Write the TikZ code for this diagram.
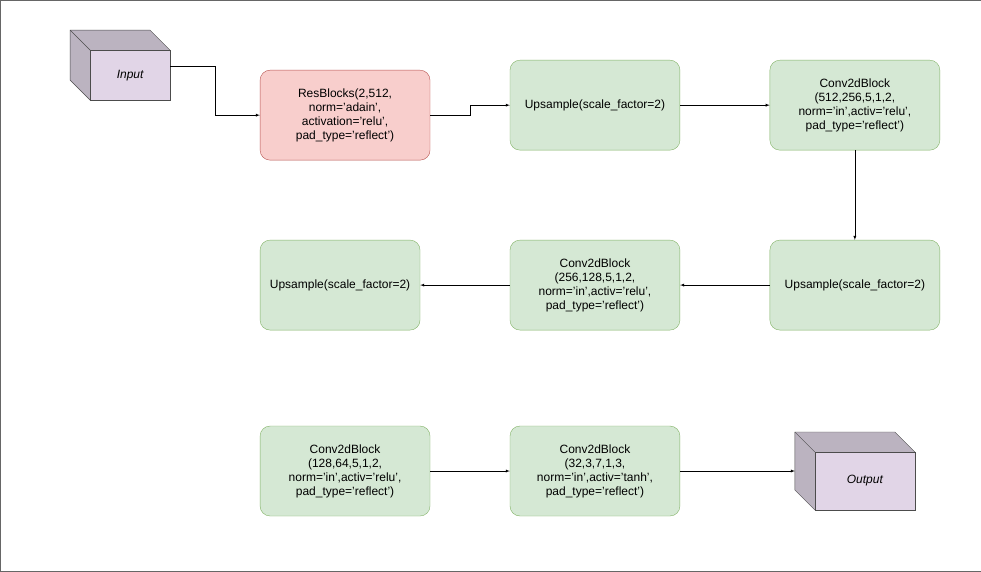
\documentclass[tikz,border=0pt]{standalone}
\usepackage{fontspec}
\setmainfont{Liberation Sans}
\usetikzlibrary{positioning}
\definecolor{redfill}{HTML}{F8CECC}
\definecolor{redline}{HTML}{B85450}
\definecolor{greenfill}{HTML}{D5E8D4}
\definecolor{greenline}{HTML}{82B366}
\definecolor{purplefill}{HTML}{E1D5E7}
\definecolor{purpleline}{HTML}{9673A6}
\tikzset{
  blk/.style={rectangle,rounded corners=10pt,draw,minimum width=170pt,minimum height=90pt,
    align=center,font=\fontsize{12}{14}\selectfont,inner sep=2pt},
  gblk/.style={blk,fill=greenfill,draw=greenline},
  rblk/.style={blk,fill=redfill,draw=redline},
  cube/.style={rectangle,draw=black!70,fill=purplefill,minimum width=100pt,minimum height=58pt,
    font=\fontsize{12}{14}\selectfont\itshape,inner sep=0pt},
  arr/.style={-latex,black}
}
\begin{document}
\begin{tikzpicture}[x=1pt,y=-1pt]
			\draw[black!60,fill=white] (0,0) rectangle (981,571);
			% input cube
			\filldraw[draw=black!70,fill=purplefill!80!black!90] (70,30)--(150,30)--(170,50)--(170,100)--(90,100)--(70,80)--cycle;
			\node[cube,minimum width=80pt,minimum height=50pt](in) at (130,75) {Input};
			\draw[black!70] (70,30)--(90,50);
			\coordinate (inr) at (170,66);
			% output cube
			\filldraw[draw=black!70,fill=purplefill!80!black!90] (795,432)--(895,432)--(915,452)--(915,510)--(815,510)--(795,490)--cycle;
			\node[cube](out) at (865,481) {Output};
			\draw[black!70] (795,432)--(815,452);
			\coordinate (outl) at (795,471);
			% blocks
			\node[rblk](res) at (345,115) {ResBlocks(2,512,\\norm='adain',\\activation='relu',\\pad\_type='reflect')};
			\node[gblk](up1) at (595,105) {Upsample(scale\_factor=2)};
			\node[gblk](conv1) at (855,105) {Conv2dBlock\\(512,256,5,1,2,\\norm='in',activ='relu',\\pad\_type='reflect')};
			\node[gblk](up2) at (855,285) {Upsample(scale\_factor=2)};
			\node[gblk](conv2) at (595,285) {Conv2dBlock\\(256,128,5,1,2,\\norm='in',activ='relu',\\pad\_type='reflect')};
			\node[gblk,minimum width=160pt](up3) at (340,285) {Upsample(scale\_factor=2)};
			\node[gblk](conv3) at (345,471) {Conv2dBlock\\(128,64,5,1,2,\\norm='in',activ='relu',\\pad\_type='reflect')};
			\node[gblk](conv4) at (595,471) {Conv2dBlock\\(32,3,7,1,3,\\norm='in',activ='tanh',\\pad\_type='reflect')};
			% connectors
			\draw[arr] (inr) -| (215,115) -- (res.west);
			\draw[arr] (res.east) -- (470,115) |- (up1.west);
			\draw[arr] (up1) -- (conv1);
			\draw[arr] (conv1) -- (up2);
			\draw[arr] (up2) -- (conv2);
			\draw[arr] (conv2) -- (up3);
			\draw[arr] (conv3) -- (conv4);
			\draw[arr] (conv4.east) -- (outl);
		\end{tikzpicture}
\end{document}
